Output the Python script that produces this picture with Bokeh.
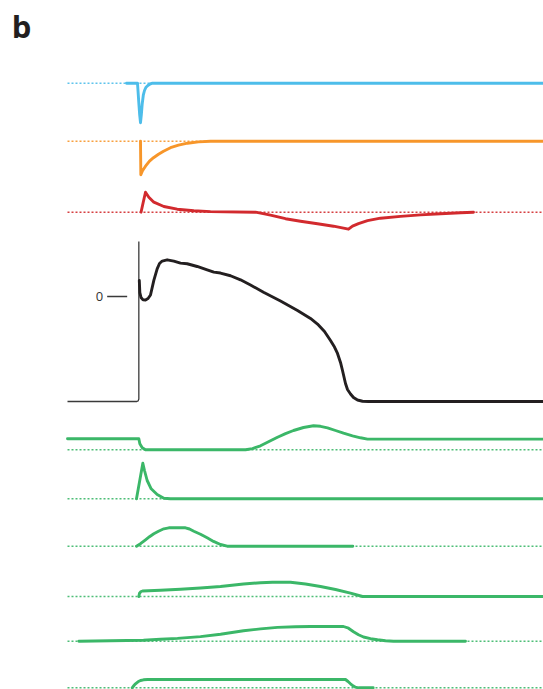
from bokeh.plotting import figure
from bokeh.models import Range1d, Label
from bokeh.embed import file_html
from bokeh.resources import INLINE

# ---------------- data (time in ms, 0 = upstroke) ----------------
# Action potential, membrane potential in mV
ap_t = [1.2, 2.0, 3.8, 6.8, 10.5, 14.3, 18, 23, 28, 31.5, 35.5, 43, 53, 63, 73, 88, 103, 113,
        123, 138, 153, 168, 187.5, 213, 238.5, 258, 268.5, 279, 288, 294, 298.5, 303, 306,
        310.5, 313.5, 318, 322.5, 328.5, 336, 345, 620]
ap_mv = [13.0, 3.2, -0.8, -2.7, -2.8, -1.6, 1.2, 13.0, 22.4, 26.7, 28.7, 29.7, 28.6, 27.0, 26.5,
         24.3, 21.6, 19.7, 19.0, 16.8, 13.5, 9.3, 3.5, -3.6, -11.3, -17.8, -22.3, -28.3, -35.6,
         -40.9, -46.1, -53.4, -59.9, -70.4, -75.3, -78.9, -81.8, -83.8, -84.8, -85.0, -85.0]
ap_rest_mv = -85.0
ap_axis_top_mv = 44.5
ap_axis_start_ms = -106.5
ap_tick_mv = 0.0

# Ionic currents (arbitrary units, outward positive)
ina_t = [-18, -1.5, -0.8, 0.5, 1.8, 3.0, 4.2, 5.6, 7.2, 9.0, 11.3, 14.0, 17.3, 21.0, 620]
ina_v = [0, 0, -7, -20, -32, -39.5, -32, -20.5, -12, -7.3, -4, -2.3, -0.8, 0, 0]

ito_t = [3.0, 3.5, 6, 10.5, 16.5, 22.5, 30, 37.5, 48, 60, 73.5, 90, 108, 620]
ito_v = [0, -33.5, -29.5, -25, -20, -16.5, -13, -10, -6.5, -4, -2, -0.7, 0, 0]

incx_t = [3.8, 7.1, 10.5, 15.5, 23, 38, 58, 83, 108, 175.5, 187, 198, 220.5, 243, 268.5, 292.5,
          307.5, 315, 321, 330, 343.5, 363, 393, 423, 453, 483, 502.5]
incx_v = [0, 10, 20, 15, 10, 5.7, 3, 1.4, 0.6, 0, -1.5, -3, -6.5, -9, -11.6, -14, -16, -17,
          -14, -11.5, -8.5, -6, -4.2, -2.7, -1.5, -0.6, 0]

ik1_t = [-106.5, 0.5, 2.0, 5.6, 10.5, 160.5, 171, 183, 195, 208.5, 220.5, 232.5, 247.5, 262.5,
         273, 283.5, 295.5, 307.5, 321, 333, 343.5, 620]
ik1_v = [11, 11, 6, 2, 0, 0, 1.2, 4, 8, 12.6, 16.2, 19.3, 22.3, 24, 23.5, 22, 19.3, 16.6, 14,
         12, 10.7, 10.7]

ical_t = [-3, 6.5, 9, 13, 19, 28, 38, 48, 620]
ical_v = [0, 35.6, 28.3, 18.3, 10, 4.3, 0.6, 0, 0]

icat_t = [-3, 3, 10.5, 16.5, 23, 30, 38, 45.5, 70.5, 76.5, 83, 93, 103, 112.5, 123, 133, 321.5]
icat_v = [0, 2.5, 6.4, 9.5, 12.4, 15, 17.4, 18.4, 18.4, 17.2, 15, 12, 8.4, 4.8, 1.7, 0, 0]

ikr_t = [0.5, 1.5, 3.8, 6, 33, 63, 93, 123, 157.5, 183, 201, 228, 250.5, 273, 295.5, 318, 336, 620]
ikr_v = [0, 3.3, 5, 5.5, 6.3, 7.2, 8.5, 10, 12.5, 13.8, 14.3, 14.2, 12.5, 10, 7, 3.3, 0, 0]

iks_t = [-89.5, -42, 7.5, 33, 58.5, 93, 123, 157.5, 183, 208.5, 235.5, 258, 307.5, 315, 322.5,
         330, 337.5, 348, 358.5, 370.5, 382.5, 490.5]
iks_v = [0, 0.4, 1, 2, 2.8, 4.6, 7, 10.5, 12.3, 13.8, 14.5, 14.7, 14.7, 13, 9.5, 6.5, 4.2, 2.5,
         1.4, 0.5, 0, 0]

ikur_t = [-9.5, -6.8, -4.5, -0.8, 3, 7.5, 13.5, 310.5, 314.3, 318, 321.8, 325.5, 330, 352]
ikur_v = [0, 2.3, 4, 6, 7.3, 8, 8.3, 8.3, 6.3, 4, 2, 0.6, 0, 0]

# ---------------- layout & style ----------------
BLUE, ORANGE, RED, GREEN, BLACK = "#4DBDEA", "#F7962A", "#D22A2E", "#3BB768", "#231F20"
AXIS_COLOR = "#3a3a3a"
baseline_start_ms = -106.5
baseline_end_ms = 620
AP_ZERO_Y = 296.0      # vertical position of 0 mV (px from top)
AP_PX_PER_MV = 1.2353

traces = [  # (t, v, baseline position, color)
    (ina_t, ina_v, 82.7, BLUE),
    (ito_t, ito_v, 140.7, ORANGE),
    (incx_t, incx_v, 211.7, RED),
    (ik1_t, ik1_v, 449.3, GREEN),
    (ical_t, ical_v, 498.3, GREEN),
    (icat_t, icat_v, 545.7, GREEN),
    (ikr_t, ikr_v, 596.0, GREEN),
    (iks_t, iks_v, 640.7, GREEN),
    (ikur_t, ikur_v, 687.3, GREEN),
]


def ap_y(mv):
    return -(AP_ZERO_Y - mv * AP_PX_PER_MV)


p = figure(width=543, height=689, output_backend="svg", toolbar_location=None,
           x_range=Range1d(-207, 607.5), y_range=Range1d(-689, 0), min_border=0)
p.axis.visible = False
p.grid.visible = False
p.outline_line_color = None
p.background_fill_color = "white"
p.border_fill_color = "white"

# dotted zero lines
for t, v, base, col in traces:
    p.line([baseline_start_ms, baseline_end_ms], [-base, -base], line_color=col,
           line_width=1.6, line_dash="2 2", line_alpha=0.9)

# current traces
for t, v, base, col in traces:
    p.line(t, [-base + vv for vv in v], line_color=col, line_width=2.9,
           line_join="round", line_cap="round")

# AP axis (vertical + baseline) and 0 mV tick
axis_t = [0.5, 0.5, -0.5, -2.5, ap_axis_start_ms]
axis_mv = [ap_axis_top_mv, ap_rest_mv + 2.0, ap_rest_mv + 0.5, ap_rest_mv, ap_rest_mv]
p.line(axis_t, [ap_y(m) for m in axis_mv], line_color=AXIS_COLOR, line_width=1.3,
       line_join="round")
p.line([-47, -17], [ap_y(ap_tick_mv)] * 2, line_color=AXIS_COLOR, line_width=1.3)
p.add_layout(Label(x=-58.5, y=ap_y(ap_tick_mv), text="0", text_align="center",
                   text_baseline="middle", text_font="Open Sans", text_font_size="13px",
                   text_color="#333333"))

# AP trace
p.line(ap_t, [ap_y(m) for m in ap_mv], line_color=BLACK, line_width=2.9,
       line_join="round", line_cap="round")

# panel label
p.add_layout(Label(x=-190, y=-25, text="b", text_align="left",
                   text_baseline="alphabetic", text_font="Open Sans",
                   text_font_style="bold", text_font_size="31px", text_color="#231F20"))

open("out.html", "w").write(file_html(p, INLINE))
